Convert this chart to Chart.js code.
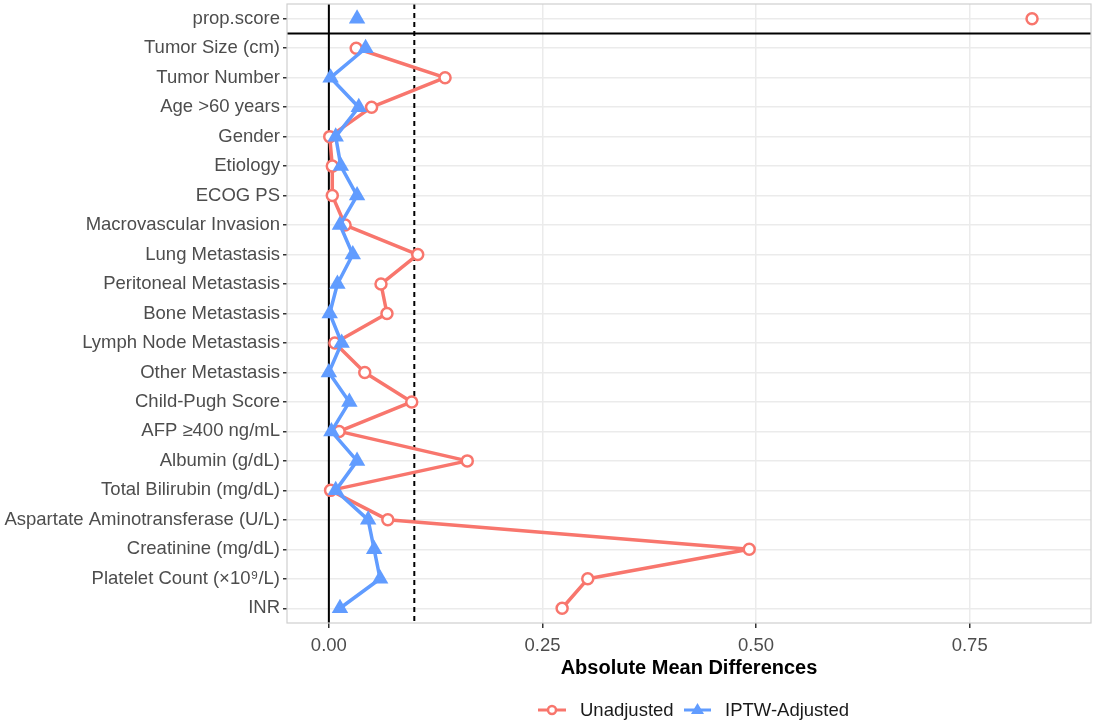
<!DOCTYPE html>
<html>
<head>
<meta charset="utf-8">
<script src="https://cdn.jsdelivr.net/npm/chart.js@4"></script>
<style>
  body { margin: 0; background: #fff; }
  canvas { display: block; }
</style>
</head>
<body>
<canvas id="loveChart" width="1093" height="724"></canvas>
<script>
// covariates, top to bottom
const covariates = [
    'prop.score', 'Tumor Size (cm)', 'Tumor Number', 'Age >60 years', 'Gender', 'Etiology',
    'ECOG PS', 'Macrovascular Invasion', 'Lung Metastasis', 'Peritoneal Metastasis',
    'Bone Metastasis', 'Lymph Node Metastasis', 'Other Metastasis', 'Child-Pugh Score',
    'AFP \u2265400 ng/mL', 'Albumin (g/dL)', 'Total Bilirubin (mg/dL)',
    'Aspartate Aminotransferase (U/L)', 'Creatinine (mg/dL)', 'Platelet Count (\u00d710\u2079/L)', 'INR'
];

// absolute mean differences
const unadjusted = [0.823, 0.032, 0.136, 0.050, 0.001, 0.004, 0.004, 0.019, 0.104, 0.061,
    0.068, 0.007, 0.042, 0.097, 0.012, 0.162, 0.002, 0.069, 0.492, 0.303, 0.273];
const adjusted = [0.033, 0.043, 0.002, 0.035, 0.008, 0.014, 0.033, 0.013, 0.028, 0.010,
    0.001, 0.015, 0.000, 0.024, 0.003, 0.033, 0.008, 0.046, 0.053, 0.060, 0.013];

const xTicks = [0, 0.25, 0.5, 0.75];
const threshold = 0.1;

const RED = '#F8766D';
const BLUE = '#619CFF';
const FONT = '"Liberation Sans", Arial, sans-serif';

// prop.score is shown on its own, the lines start at the first covariate
const lineOnly = arr => arr.map((v, i) => i === 0 ? null : v);
const psOnly = arr => arr.map((v, i) => i === 0 ? v : null);

const refLines = {
    id: 'refLines',
    beforeDatasetsDraw(chart) {
        const { ctx, chartArea: a, scales: { x, y } } = chart;
        ctx.save();
        ctx.strokeStyle = '#000';
        ctx.lineWidth = 2;
        // zero line
        const x0 = x.getPixelForValue(0);
        ctx.beginPath();
        ctx.moveTo(x0, a.top);
        ctx.lineTo(x0, a.bottom);
        ctx.stroke();
        // threshold
        const xt = x.getPixelForValue(threshold);
        ctx.setLineDash([5, 4]);
        ctx.beginPath();
        ctx.moveTo(xt, a.top);
        ctx.lineTo(xt, a.bottom);
        ctx.stroke();
        ctx.setLineDash([]);
        // separator below prop.score
        const ys = y.getPixelForValue(0.5);
        ctx.beginPath();
        ctx.moveTo(a.left, ys);
        ctx.lineTo(a.right, ys);
        ctx.stroke();
        ctx.restore();
    },
    afterDraw(chart) {
        const { ctx, chartArea: a } = chart;
        ctx.save();
        // panel border
        ctx.strokeStyle = '#CFCFCF';
        ctx.lineWidth = 1.2;
        ctx.strokeRect(a.left, a.top, a.right - a.left, a.bottom - a.top);

        // legend
        const ly = 710;
        ctx.font = '18.5px ' + FONT;
        ctx.textBaseline = 'middle';
        ctx.lineWidth = 3;
        // unadjusted
        ctx.strokeStyle = RED;
        ctx.beginPath();
        ctx.moveTo(538, ly);
        ctx.lineTo(566, ly);
        ctx.stroke();
        ctx.beginPath();
        ctx.arc(552, ly, 4, 0, Math.PI * 2);
        ctx.fillStyle = '#fff';
        ctx.fill();
        ctx.lineWidth = 2.5;
        ctx.stroke();
        ctx.fillStyle = '#1A1A1A';
        ctx.fillText('Unadjusted', 580, ly + 1);
        // adjusted
        ctx.strokeStyle = BLUE;
        ctx.fillStyle = BLUE;
        ctx.lineWidth = 3;
        ctx.beginPath();
        ctx.moveTo(684, ly);
        ctx.lineTo(711, ly);
        ctx.stroke();
        ctx.beginPath();
        ctx.moveTo(697.5, ly - 7);
        ctx.lineTo(704, ly + 4);
        ctx.lineTo(691, ly + 4);
        ctx.closePath();
        ctx.fill();
        ctx.fillStyle = '#1A1A1A';
        ctx.fillText('IPTW-Adjusted', 725, ly + 1);
        ctx.restore();
    }
};

const ctx = document.getElementById('loveChart').getContext('2d');
const loveChart = new Chart(ctx, {
    type: 'line',
    data: {
        labels: covariates,
        datasets: [
            {
                label: 'IPTW-Adjusted',
                data: lineOnly(adjusted),
                borderColor: BLUE,
                backgroundColor: BLUE,
                borderWidth: 3.5,
                borderJoinStyle: 'round',
                borderCapStyle: 'round',
                pointStyle: 'triangle',
                pointRadius: 9.5,
                pointBorderWidth: 0,
                spanGaps: false,
                order: 1
            },
            {
                label: 'IPTW-Adjusted ps',
                data: psOnly(adjusted),
                borderColor: BLUE,
                backgroundColor: BLUE,
                showLine: false,
                pointStyle: 'triangle',
                pointRadius: 9.5,
                pointBorderWidth: 0,
                order: 1
            },
            {
                label: 'Unadjusted',
                data: lineOnly(unadjusted),
                borderColor: RED,
                backgroundColor: '#fff',
                borderWidth: 3.5,
                borderJoinStyle: 'round',
                borderCapStyle: 'round',
                pointStyle: 'circle',
                pointRadius: 5.5,
                pointBorderWidth: 2.5,
                spanGaps: false,
                order: 2
            },
            {
                label: 'Unadjusted ps',
                data: psOnly(unadjusted),
                borderColor: RED,
                backgroundColor: '#fff',
                showLine: false,
                pointStyle: 'circle',
                pointRadius: 5.5,
                pointBorderWidth: 2.5,
                order: 2
            }
        ]
    },
    options: {
        responsive: false,
        animation: false,
        indexAxis: 'y',
        layout: { autoPadding: false, padding: { top: 4, right: 2, left: 0, bottom: 44 } },
        plugins: {
            legend: { display: false },
            tooltip: { enabled: false }
        },
        scales: {
            y: {
                type: 'category',
                offset: true,
                afterFit: s => { s.width = 287; s.paddingTop = 0; s.paddingBottom = 0; },
                grid: {
                    offset: false,
                    color: '#EBEBEB',
                    lineWidth: 1.5,
                    tickColor: '#333',
                    tickLength: 4,
                    drawOnChartArea: true
                },
                border: { display: false },
                ticks: {
                    color: '#4D4D4D',
                    font: { family: FONT, size: 18.5 },
                    padding: 3,
                    autoSkip: false
                }
            },
            x: {
                type: 'linear',
                min: -0.049,
                max: 0.892,
                afterBuildTicks: s => { s.ticks = xTicks.map(v => ({ value: v })); },
                afterFit: s => { s.height = 57; s.paddingLeft = 0; s.paddingRight = 0; },
                grid: {
                    color: '#EBEBEB',
                    lineWidth: 1.5,
                    tickColor: '#333',
                    tickLength: 5
                },
                border: { display: false },
                ticks: {
                    color: '#4D4D4D',
                    font: { family: FONT, size: 18.5 },
                    padding: 7,
                    callback: v => v.toFixed(2)
                },
                title: {
                    display: true,
                    text: 'Absolute Mean Differences',
                    color: '#000',
                    font: { family: FONT, size: 20, weight: 'bold' },
                    padding: { top: 0, bottom: 0 }
                }
            }
        }
    },
    plugins: [refLines]
});
</script>
</body>
</html>
